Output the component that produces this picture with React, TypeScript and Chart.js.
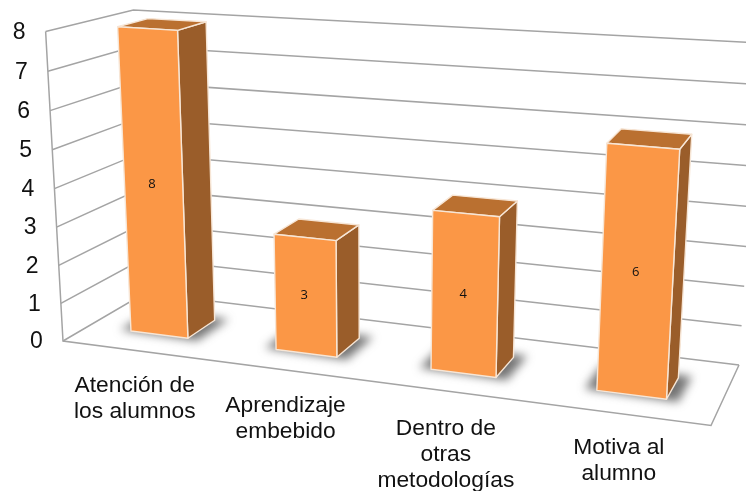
import React, { useEffect, useRef } from "react";
import { Chart, registerables } from "chart.js";

Chart.register(...registerables);

const categories: string[][] = [
  ["Atención de", "los alumnos"],
  ["Aprendizaje", "embebido"],
  ["Dentro de", "otras", "metodologías"],
  ["Motiva al", "alumno"],
];
const values: number[] = [8, 3, 4, 6];
const yMin = 0;
const yMax = 8;

type P = [number, number];
const floorQuad: P[] = [[63, 341], [711, 425.5], [145, 293], [739, 365]];
// image heights of the full value range at the four floor corners
const cornerHeights = [309.5, 346, 283, 322];
const verticalVanish: P = [375, 5900];
const depthFront = 0.3;
const depthBack = 0.66;
const labelOffsets: P[] = [[0, 41.9], [0, 41.8], [-1, 44], [-1, 40.5]];

const FONT = "'Liberation Sans', Arial, sans-serif";

function quadMap(q: P[]) {
  const [[x0, y0], [x1, y1], [x3, y3], [x2, y2]] = q;
  const dx1 = x1 - x2, dx2 = x3 - x2, sx = x0 - x1 + x2 - x3;
  const dy1 = y1 - y2, dy2 = y3 - y2, sy = y0 - y1 + y2 - y3;
  const den = dx1 * dy2 - dx2 * dy1;
  const g = (sx * dy2 - dx2 * sy) / den;
  const h = (dx1 * sy - sx * dy1) / den;
  const a = x1 - x0 + g * x1, b = x3 - x0 + h * x3;
  const d = y1 - y0 + g * y1, e = y3 - y0 + h * y3;
  return (u: number, v: number): P => {
    const t = g * u + h * v + 1;
    return [(a * u + b * v + x0) / t, (d * u + e * v + y0) / t];
  };
}
const floorMap = quadMap(floorQuad);
const project = (u: number, v: number, w: number): P => {
  const [fx, fy] = floorMap(u, v);
  const [h00, h10, h01, h11] = cornerHeights;
  const H = (h00 * (1 - u) + h10 * u) * (1 - v) + (h01 * (1 - u) + h11 * u) * v;
  const q = 0.03;
  const wp = (w * (1 - q)) / (1 - q * w);
  const lean = (fx - verticalVanish[0]) / (verticalVanish[1] - fy);
  return [fx + lean * H * wp, fy - H * wp];
};
// the width axis is foreshortened towards the left
const warp = (u: number) => u / (1 + 0.04 * (1 - u));

function poly(ctx: CanvasRenderingContext2D, pts: P[], close = true) {
  ctx.beginPath();
  pts.forEach((p, i) => (i ? ctx.lineTo(p[0], p[1]) : ctx.moveTo(p[0], p[1])));
  if (close) ctx.closePath();
}

const perspectivePlugin = {
  id: "perspective",
  beforeDatasetsDraw(chart: any) {
    const { ctx, chartArea: area, scales } = chart;
    const ys = scales.y;
    const wOf = (val: number) => (area.bottom - ys.getPixelForValue(val)) / (area.bottom - area.top);
    ctx.save();
    ctx.strokeStyle = "#a4a4a4";
    ctx.lineWidth = 1.5;
    ctx.lineJoin = "miter";
    ys.ticks.forEach((t: any) => {
      const w = wOf(t.value);
      poly(ctx, [project(0, 0, w), project(0, 1, w), project(1, 1, w)], false);
      ctx.stroke();
    });
    poly(ctx, [project(0, 0, 1), project(0, 0, 0), project(1, 0, 0), project(1, 1, 0)], false);
    ctx.stroke();
    ctx.fillStyle = "#111";
    ctx.font = `23px ${FONT}`;
    ctx.textAlign = "center";
    ctx.textBaseline = "middle";
    ys.ticks.forEach((t: any) => {
      const [x, y] = project(0, 0, wOf(t.value));
      ctx.fillText(String(t.value), x - 26.5, y + 1);
    });
    ctx.restore();

    const meta = chart.getDatasetMeta(0);
    ctx.save();
    ctx.filter = "blur(5px)";
    ctx.fillStyle = "rgba(70,70,70,0.75)";
    meta.data.forEach((bar: any) => {
      const u0 = warp((bar.x - bar.width / 2 - area.left) / area.width);
      const u1 = warp((bar.x + bar.width / 2 - area.left) / area.width);
      const pad = 0.018;
      poly(ctx, [
        project(u0 - pad, depthFront, 0),
        project(u1 + pad, depthFront - 0.02, 0),
        project(u1 + pad, depthBack + 0.05, 0),
        project(u0 - pad, depthBack + 0.05, 0),
      ]);
      ctx.fill();
    });
    ctx.restore();
  },
  afterDatasetsDraw(chart: any) {
    const { ctx, chartArea: area } = chart;
    const meta = chart.getDatasetMeta(0);
    ctx.save();
    ctx.lineJoin = "round";
    ctx.lineWidth = 1.4;
    ctx.strokeStyle = "#f7e6d6";
    meta.data.forEach((bar: any, i: number) => {
      const u0 = warp((bar.x - bar.width / 2 - area.left) / area.width);
      const u1 = warp((bar.x + bar.width / 2 - area.left) / area.width);
      const w = (area.bottom - bar.y) / (area.bottom - area.top);
      const a = depthFront, b = depthBack;
      const side: P[] = [project(u1, a, 0), project(u1, b, 0), project(u1, b, w), project(u1, a, w)];
      const top: P[] = [project(u0, a, w), project(u1, a, w), project(u1, b, w), project(u0, b, w)];
      const front: P[] = [project(u0, a, 0), project(u1, a, 0), project(u1, a, w), project(u0, a, w)];
      poly(ctx, side); ctx.fillStyle = "#9a5d2a"; ctx.fill(); ctx.stroke();
      poly(ctx, top); ctx.fillStyle = "#ba7030"; ctx.fill(); ctx.stroke();
      poly(ctx, front); ctx.fillStyle = "#fb9746"; ctx.fill(); ctx.stroke();
      const c = project((u0 + u1) / 2, a, w / 2);
      ctx.fillStyle = "#111";
      ctx.font = "13px 'Open Sans', sans-serif";
      ctx.textAlign = "center";
      ctx.textBaseline = "middle";
      ctx.fillText(String(values[i]), c[0] - 1.5, c[1]);
    });
    ctx.fillStyle = "#111";
    ctx.font = `22.8px ${FONT}`;
    ctx.textAlign = "center";
    ctx.textBaseline = "alphabetic";
    meta.data.forEach((bar: any, i: number) => {
      const u = warp((bar.x - area.left) / area.width);
      const [x, y] = project(u, 0, 0);
      categories[i].forEach((line, k) => {
        ctx.fillText(line, x + labelOffsets[i][0], y + labelOffsets[i][1] + k * 25.8);
      });
    });
    ctx.restore();
  },
};

export default function App() {
  const ref = useRef<HTMLCanvasElement>(null);
  useEffect(() => {
    const chart = new Chart(ref.current!, {
      type: "bar",
      data: {
        labels: categories.map((c) => c.join(" ")),
        datasets: [{
          data: values,
          backgroundColor: "transparent",
          borderWidth: 0,
          categoryPercentage: 1,
          barPercentage: 0.4,
        }],
      },
      options: {
        animation: false,
        responsive: false,
        layout: { padding: { left: 63, right: 35, top: 32, bottom: 150 } },
        plugins: { legend: { display: false }, tooltip: { enabled: false } },
        scales: {
          x: { display: false },
          y: { display: false, min: yMin, max: yMax, ticks: { stepSize: 1 } },
        },
      },
      plugins: [perspectivePlugin],
    } as any);
    return () => chart.destroy();
  }, []);
  return (
    <div style={{ position: "absolute", left: 0, top: 0, width: 746, height: 491, background: "#fff" }}>
      <canvas ref={ref} width={746} height={491} style={{ display: "block" }} />
    </div>
  );
}
